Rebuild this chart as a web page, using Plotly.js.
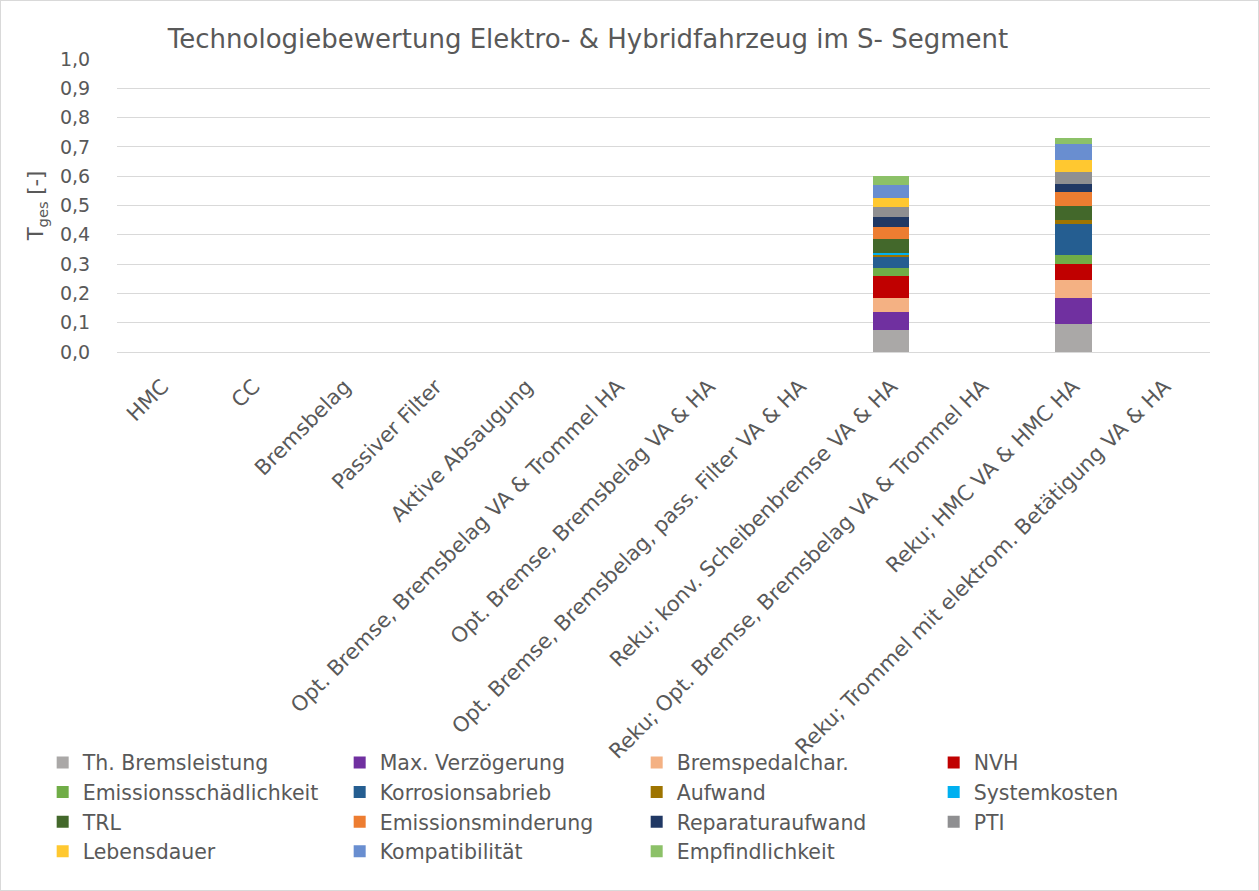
<!DOCTYPE html>
<html><head><meta charset="utf-8">
<script src="https://cdn.plot.ly/plotly-3.0.1.min.js"></script>
<style>body{margin:0;background:#fff}#c{width:1257px;height:889px;border:1px solid #d9d9d9}</style>
</head><body><div id="c"></div>
<script>
const categories = ["HMC","CC","Bremsbelag","Passiver Filter","Aktive Absaugung",
 "Opt. Bremse, Bremsbelag VA & Trommel HA","Opt. Bremse, Bremsbelag VA & HA",
 "Opt. Bremse, Bremsbelag, pass. Filter VA & HA","Reku; konv. Scheibenbremse VA & HA",
 "Reku; Opt. Bremse, Bremsbelag VA & Trommel HA","Reku; HMC VA & HMC HA",
 "Reku; Trommel mit elektrom. Betätigung VA & HA"];
const seriesNames = ["Th. Bremsleistung","Max. Verzögerung","Bremspedalchar.","NVH",
 "Emissionsschädlichkeit","Korrosionsabrieb","Aufwand","Systemkosten","TRL",
 "Emissionsminderung","Reparaturaufwand","PTI","Lebensdauer","Kompatibilität","Empfindlichkeit"];
const seriesColors = ["#AAA8A7","#7030A0","#F4B183","#C00000","#70AD47","#255E91","#9E7400",
 "#00B0F0","#43682B","#ED7D31","#203864","#8F8F91","#FFC830","#698ED0","#8CC168"];
// values for "Reku; konv. Scheibenbremse VA & HA" and "Reku; HMC VA & HMC HA"
const rekuKonv = [0.076,0.060,0.049,0.074,0.029,0.039,0.003,0.009,0.048,0.041,0.034,0.033,0.029,0.046,0.029];
const rekuHMC  = [0.097,0.087,0.063,0.055,0.028,0.108,0.014,0.000,0.046,0.049,0.025,0.042,0.042,0.055,0.020];

const traces = seriesNames.map((n,i)=>{
  const y = categories.map(()=>0);
  y[8] = rekuKonv[i];
  y[10] = rekuHMC[i];
  return {type:'bar', name:n, x:categories, y:y, marker:{color:seriesColors[i], line:{width:0}}, hoverinfo:'name+y'};
});
const grey = '#595959';
const F = 'DejaVu Sans, sans-serif';
const layout = {
  width:1257, height:889,
  margin:{l:116, r:48, t:58, b:538},
  paper_bgcolor:'#fff', plot_bgcolor:'#fff',
  font:{family:F, color:grey, size:19},
  separators:', ',
  barmode:'stack', bargap:0.6,
  title:{text:'Technologiebewertung Elektro- & Hybridfahrzeug im S- Segment', font:{family:F, size:26, color:grey},
    x:0.467, xanchor:'center', y:0.957, yanchor:'middle'},
  xaxis:{tickangle:-45, showgrid:false, showline:false, zeroline:false, ticks:'outside', ticklen:13, tickcolor:'rgba(0,0,0,0)',
    tickfont:{family:F, size:21, color:grey}},
  yaxis:{range:[0,1], dtick:0.1, tickformat:'.1f', gridcolor:'#d9d9d9', gridwidth:1, zeroline:true, zerolinecolor:'#d9d9d9',
    ticks:'outside', ticklen:22, tickcolor:'rgba(0,0,0,0)', tickfont:{family:F, size:19, color:grey},
    title:{text:'T<sub>ges</sub> [-]', font:{family:F, size:21, color:grey}, standoff:10}},
  showlegend:true,
  legend:{orientation:'h', x:-0.068, xanchor:'left', y:-1.333, yanchor:'top', traceorder:'normal',
    bgcolor:'rgba(0,0,0,0)',
    entrywidth:252, entrywidthmode:'pixels', font:{family:F, size:20.5, color:grey}, tracegroupgap:0}
};
Plotly.newPlot('c', traces, layout, {displayModeBar:false});
</script></body></html>
